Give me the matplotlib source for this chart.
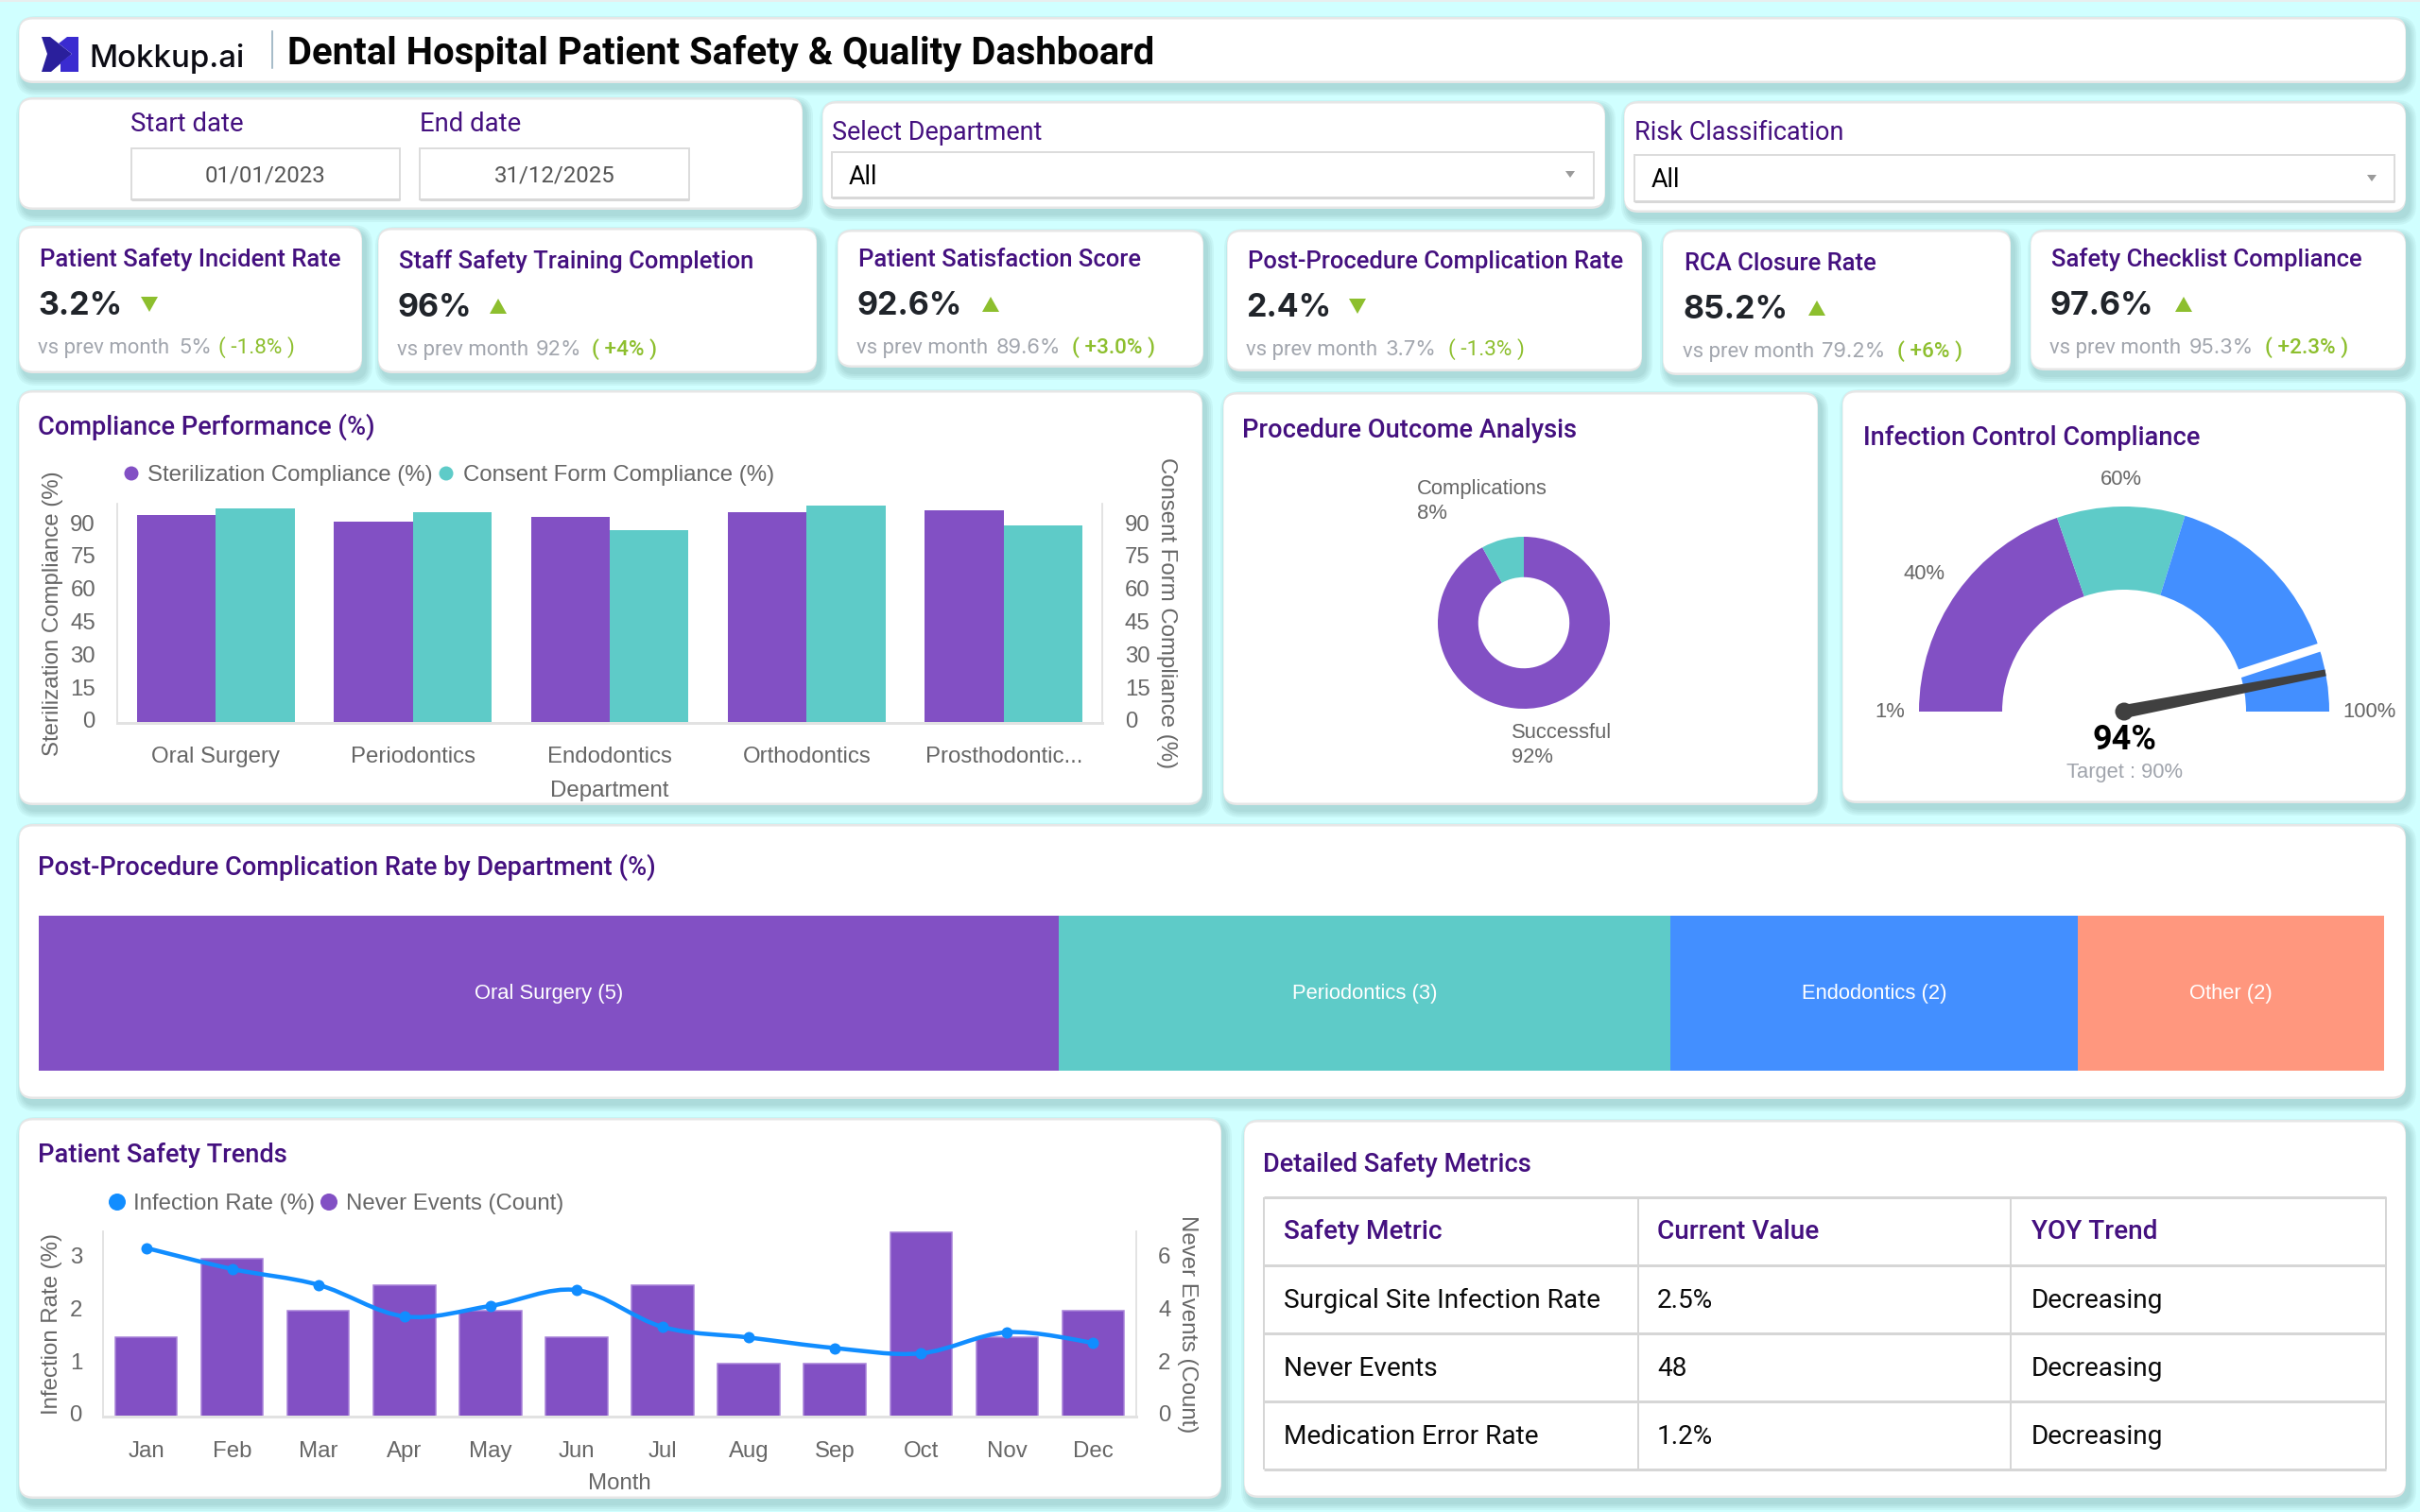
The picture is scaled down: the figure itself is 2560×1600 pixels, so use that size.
import matplotlib
matplotlib.use('Agg')
import matplotlib.pyplot as plt
import numpy as np
from matplotlib.patches import FancyBboxPatch, Polygon, Rectangle, Wedge, Circle, PathPatch
from matplotlib.path import Path
from matplotlib.transforms import Affine2D

# --- data ---
kpi_titles = ['Patient Safety Incident Rate', 'Staff Safety Training Completion', 'Patient Satisfaction Score',
              'Post-Procedure Complication Rate', 'RCA Closure Rate', 'Safety Checklist Compliance']
kpi_values = ['3.2%', '96%', '92.6%', '2.4%', '85.2%', '97.6%']
kpi_prev = ['5%', '92%', '89.6%', '3.7%', '79.2%', '95.3%']
kpi_delta = ['( -1.8% )', '( +4% )', '( +3.0% )', '( -1.3% )', '( +6% )', '( +2.3% )']
kpi_up = [False, True, True, False, True, True]

departments = ['Oral Surgery', 'Periodontics', 'Endodontics', 'Orthodontics', 'Prosthodontic...']
sterilization = [95, 92, 94, 96, 97]
consent = [98, 96, 88, 99, 90]

outcome_labels = ['Successful', 'Complications']
outcome_values = [92, 8]

gauge_stops = [1, 40, 60, 100]
gauge_value = 94
gauge_target = 90

complication_names = ['Oral Surgery', 'Periodontics', 'Endodontics', 'Other']
complication_values = [5, 3, 2, 1.5]

months = ['Jan', 'Feb', 'Mar', 'Apr', 'May', 'Jun', 'Jul', 'Aug', 'Sep', 'Oct', 'Nov', 'Dec']
infection_rate = [3.2, 2.8, 2.5, 1.9, 2.1, 2.4, 1.7, 1.5, 1.3, 1.2, 1.6, 1.4]
never_events = [3, 6, 4, 5, 4, 3, 5, 2, 2, 7, 3, 4]

table_header = ['Safety Metric', 'Current Value', 'YOY Trend']
table_metrics = ['Surgical Site Infection Rate', 'Never Events', 'Medication Error Rate']
table_current = ['2.5%', '48', '1.2%']
table_trend = ['Decreasing', 'Decreasing', 'Decreasing']

# --- style ---
bg = '#d0ffff'
purple = '#8250c4'
teal = '#5ecbc8'
blue = '#438fff'
salmon = '#ff977e'
line_blue = '#118dff'
title_col = '#44107f'
axis_text = '#666666'
green = '#8dbf2e'
grid_col = '#e2e2e2'
AX_PX = 24
PX = 0.72  # px -> pt at dpi 100

fig = plt.figure(figsize=(25.6, 16), dpi=100, facecolor=bg)
cv = fig.add_axes([0, 0, 1, 1])
cv.set_xlim(0, 2560)
cv.set_ylim(1600, 0)
cv.axis('off')


def txt(x, y, s, px=AX_PX, color='#000000', family='Roboto', weight='normal', ha='left', **kw):
    # y is the visual middle of the capitals
    return cv.text(x, y + 0.36 * px, s, fontsize=px * PX, color=color, family=family,
                   weight=weight, ha=ha, va='baseline', **kw)


def card(x0, y0, x1, y1):
    for s in (7, 5, 3, 1):
        cv.add_patch(FancyBboxPatch((x0 - s + 4, y0 - s + 6), x1 - x0 + 2 * s, y1 - y0 + 2 * s,
                                    boxstyle=f'round,pad=0,rounding_size={14 + s}',
                                    fc='#4f8080', ec='none', alpha=0.075))
    cv.add_patch(FancyBboxPatch((x0, y0), x1 - x0, y1 - y0, boxstyle='round,pad=0,rounding_size=15',
                                fc='#e6e6e6', ec='none'))
    cv.add_patch(FancyBboxPatch((x0 + 0.5, y0 + 2.5), x1 - x0 - 1, y1 - y0 - 5,
                                boxstyle='round,pad=0,rounding_size=14', fc='white', ec='none'))


def field(x0, y0, x1, y1):
    cv.add_patch(Rectangle((x0, y0), x1 - x0, y1 - y0, fc='white', ec='#dcdcdc', lw=2 * PX))
    cv.plot([x0, x1], [y1, y1], color='#d8d8d8', lw=3 * PX, solid_capstyle='butt')


def ax_px(x0, y0, x1, y1):
    a = fig.add_axes([x0 / 2560, 1 - y1 / 1600, (x1 - x0) / 2560, (y1 - y0) / 1600])
    a.patch.set_visible(False)
    return a


def style_axes(a, tick_px=AX_PX):
    for name, sp in a.spines.items():
        sp.set_visible(name != 'top')
        sp.set_color(grid_col)
        sp.set_linewidth((3 if name == 'bottom' else 1.5) * PX)
    a.tick_params(length=0, labelsize=tick_px * PX, labelcolor=axis_text)
    for lab in a.get_xticklabels() + a.get_yticklabels():
        lab.set_family('Liberation Sans')


def nudge_yticks(a, dy=3):
    # y tick labels sit a little above their gridline position in the original
    for t in a.yaxis.get_major_ticks():
        t.label1.set_transform(t.label1.get_transform() + Affine2D().translate(0, dy))
        t.label2.set_transform(t.label2.get_transform() + Affine2D().translate(0, dy))


cv.add_patch(Rectangle((0, 0), 2560, 2, fc='#e8eeee', ec='none'))

# header
card(20, 18, 2545, 88)
cv.add_patch(Polygon([(44, 39), (53, 39), (76, 57), (54, 76), (44, 76), (50, 57)], fc='#2a1f9c', ec='none'))
cv.add_patch(Polygon([(83, 39), (83, 76), (64, 76), (64, 66), (76, 57), (62, 46), (71, 39)], fc='#3a2bd0', ec='none'))
txt(94, 59, 'Mokkup.ai', px=33, family='Inter', weight='medium', color='#0c0c14')
cv.plot([288, 288], [33, 72], color='#8aa6b8', lw=1.5 * PX)
txt(304, 54, 'Dental Hospital Patient Safety & Quality Dashboard', px=40, weight='bold', color='#050505')

# filters
card(20, 103, 849, 222)
card(870, 107, 1698, 221)
card(1718, 107, 2545, 225)
txt(138, 129, 'Start date', px=27.5, color=title_col)
txt(444, 129, 'End date', px=27.5, color=title_col)
field(139, 157, 423, 211)
field(444, 157, 729, 211)
txt(281, 184, '01/01/2023', px=AX_PX, color='#555555', ha='center')
txt(587, 184, '31/12/2025', px=AX_PX, color='#555555', ha='center')

dept_lab = txt(880, 138, 'Select Department', px=27, color=title_col)
dept_lab.set_clip_path(Rectangle((870, 110), 400, 39, transform=cv.transData))
txt(1729, 138, 'Risk Classification', px=27, color=title_col)
field(880, 161, 1686, 209)
field(1729, 164, 2533, 213)
txt(898, 185, 'All', px=27)
txt(1747, 188, 'All', px=27)
for tx, ty in [(1661, 184), (2509, 188)]:
    cv.add_patch(Polygon([(tx - 5, ty - 3), (tx + 5, ty - 3), (tx, ty + 4)], fc='#9a9a9a', ec='none'))

# KPI cards
kpi_boxes = [(20, 239, 383, 395), (400, 241, 864, 395), (886, 243, 1273, 389),
             (1298, 243, 1737, 393), (1759, 243, 2127, 397), (2148, 243, 2545, 392)]
kpi_x = [40, 420, 906, 1318, 1780, 2168]
kpi_y = [321, 323, 321, 323, 325, 321]
kpi_tri_x = [158, 527, 1048, 1436, 1922, 2310]
kpi_prev_x = [189, 567, 1054, 1466, 1927, 2316]
kpi_delta_x = [231, 626, 1134, 1532, 2007, 2396]
for i, box in enumerate(kpi_boxes):
    card(*box)
    x, y = kpi_x[i], kpi_y[i]
    txt(x + 2, y - 48, kpi_titles[i], px=25.6, weight='medium', color=title_col)
    txt(x, y, kpi_values[i], px=34, family='Inter', weight='bold', color='#20242a')
    tx, ty = kpi_tri_x[i], y + 1
    if kpi_up[i]:
        pts = [(tx - 9, ty + 8), (tx + 9, ty + 8), (tx, ty - 8)]
    else:
        pts = [(tx - 9, ty - 8), (tx + 9, ty - 8), (tx, ty + 8)]
    cv.add_patch(Polygon(pts, fc=green, ec='none'))
    sy = y + 45
    txt(x, sy, 'vs prev month', px=22.2, color='#a2a6ae')
    txt(kpi_prev_x[i], sy, kpi_prev[i], px=22, family='Inter', color='#a2a6ae')
    txt(kpi_delta_x[i], sy, kpi_delta[i], px=22.5, color=green,
        weight='medium' if '+' in kpi_delta[i] else 'normal')

# Compliance Performance
card(20, 413, 1272, 852)
txt(40, 449.5, 'Compliance Performance (%)', px=27.2, weight='medium', color=title_col)
cv.scatter([139, 472], [501, 501], s=(15 * PX) ** 2, c=[purple, teal], linewidths=0, zorder=3)
txt(156, 500.5, 'Sterilization Compliance (%)', family='Liberation Sans', color=axis_text)
txt(490, 500.5, 'Consent Form Compliance (%)', family='Liberation Sans', color=axis_text)

ax = ax_px(124, 533, 1166, 765)
axr = ax.twinx()
axr.patch.set_visible(False)
pos = np.arange(len(departments))
ax.bar(pos - 0.2, sterilization, 0.4, color=purple)
axr.bar(pos + 0.2, consent, 0.4, color=teal)
ax.set_xlim(-0.5, 4.5)
ax.set_ylim(0, 100)
axr.set_ylim(0, 100)
ax.set_xticks(pos, departments)
ax.set_yticks(np.arange(0, 91, 15))
axr.set_yticks(np.arange(0, 91, 15))
style_axes(ax)
style_axes(axr)
ax.tick_params(axis='x', pad=25 * PX)
ax.tick_params(axis='y', pad=23 * PX)
axr.tick_params(axis='y', pad=24 * PX)
nudge_yticks(ax)
nudge_yticks(axr)
ax.set_xlabel('Department', fontsize=AX_PX * PX, color=axis_text, family='Liberation Sans')
ax.xaxis.set_label_coords(0.5, (765 - 836.5) / 232, transform=ax.transAxes)
ax.xaxis.label.set_va('center')
ax.set_ylabel('Sterilization Compliance (%)', fontsize=AX_PX * PX, color=axis_text, family='Liberation Sans', va='center')
ax.yaxis.set_label_coords((56 - 124) / 1042, 0.5)
axr.set_ylabel('Consent Form Compliance (%)', fontsize=AX_PX * PX, color=axis_text, family='Liberation Sans',
               rotation=-90, va='center')
axr.yaxis.set_label_coords((1234 - 124) / 1042, 0.5)

# Procedure Outcome Analysis
card(1294, 415, 1923, 852)
txt(1314, 453, 'Procedure Outcome Analysis', px=27.2, weight='medium', color=title_col)
axd = ax_px(1521, 568, 1703, 750)
axd.pie(outcome_values, colors=[purple, teal], startangle=90, counterclock=False, radius=1,
        wedgeprops={'width': 0.47, 'linewidth': 0})
axd.set_xlim(-1, 1)
axd.set_ylim(-1, 1)
txt(1499, 515.5, outcome_labels[1], px=22, family='Liberation Sans', color=axis_text)
txt(1499, 541.5, f'{outcome_values[1]}%', px=22, family='Liberation Sans', color=axis_text)
txt(1599, 773, outcome_labels[0], px=22, family='Liberation Sans', color=axis_text)
txt(1599, 799, f'{outcome_values[0]}%', px=22, family='Liberation Sans', color=axis_text)

# Infection Control Compliance
card(1949, 413, 2545, 850)
txt(1971, 461, 'Infection Control Compliance', px=27.2, weight='medium', color=title_col)
axg = ax_px(2247 - 230, 753 - 230, 2247 + 230, 753 + 230)
axg.set_xlim(-230, 230)
axg.set_ylim(-230, 230)
axg.axis('off')


def gauge_angle(v):
    return 180 * (1 - (v - gauge_stops[0]) / (gauge_stops[-1] - gauge_stops[0]))


for lo, hi, col in zip(gauge_stops[:-1], gauge_stops[1:], [purple, teal, blue]):
    axg.add_patch(Wedge((0, 0), 217, gauge_angle(hi), gauge_angle(lo), width=88, fc=col, ec='none'))
ta = np.radians(gauge_angle(gauge_target))
axg.plot([124 * np.cos(ta), 224 * np.cos(ta)], [124 * np.sin(ta), 224 * np.sin(ta)],
         color='white', lw=9 * PX, solid_capstyle='butt')
na = np.radians(gauge_angle(gauge_value))
d = np.array([np.cos(na), np.sin(na)])
n = np.array([-d[1], d[0]])
axg.add_patch(Polygon([7 * n, 217 * d + 3.5 * n, 217 * d - 3.5 * n, -7 * n], fc='#404040', ec='none'))
axg.add_patch(Circle((0, 0), 9.5, fc='#404040', ec='none'))
for lab_x, lab_y, lab_v in zip([1999, 2035, 2244, 2507], [751, 605, 505, 751], gauge_stops):
    txt(lab_x, lab_y, f'{lab_v}%', px=22, family='Liberation Sans', color=axis_text, ha='center')
txt(2247, 780, f'{gauge_value}%', px=36, weight='bold', ha='center')
txt(2247, 815, f'Target : {gauge_target}%', px=22, family='Liberation Sans', color='#a0a4ac', ha='center')

# Post-Procedure Complication Rate by Department
card(20, 872, 2545, 1163)
txt(40, 916, 'Post-Procedure Complication Rate by Department (%)', px=27.2, weight='medium', color=title_col)
axt = ax_px(41, 969, 2522, 1133)
axt.axis('off')
axt.set_xlim(0, sum(complication_values))
axt.set_ylim(-0.5, 0.5)
left = 0
for name, val, col in zip(complication_names, complication_values, [purple, teal, blue, salmon]):
    axt.barh(0, val, left=left, height=1, color=col)
    axt.text(left + val / 2, 0, f'{name} ({val:.0f})', color='white', ha='center', va='center',
             fontsize=22 * PX, family='Liberation Sans')
    left += val

# Patient Safety Trends
card(20, 1183, 1292, 1586)
txt(40, 1220, 'Patient Safety Trends', px=27.2, weight='medium', color=title_col)
cv.scatter([124, 348], [1272, 1272], s=(18 * PX) ** 2, c=[line_blue, purple], linewidths=0, zorder=3)
txt(141, 1271, 'Infection Rate (%)', family='Liberation Sans', color=axis_text)
txt(366, 1271, 'Never Events (Count)', family='Liberation Sans', color=axis_text)

axl = ax_px(109, 1303, 1202, 1499)
axb = axl.twinx()
axb.patch.set_visible(False)
mpos = np.arange(len(months))
axb.bar(mpos, never_events, 0.72, color=purple, edgecolor='#a780d8', linewidth=1.5 * PX)
axl.set_xlim(-0.5, 11.5)
axl.set_ylim(0, 3.515)
axb.set_ylim(0, 7.03)
axl.set_xticks(mpos, months)
axl.set_yticks([0, 1, 2, 3])
axb.set_yticks([0, 2, 4, 6])
style_axes(axl)
style_axes(axb)
axl.set_zorder(axb.get_zorder() + 1)
axl.tick_params(axis='x', pad=26 * PX)
axl.tick_params(axis='y', pad=22 * PX)
axb.tick_params(axis='y', pad=23 * PX)
nudge_yticks(axl)
nudge_yticks(axb)
rate = np.array(infection_rate)
pts = np.column_stack([mpos, rate])
verts = [pts[0]]
codes = [Path.MOVETO]
for i in range(len(pts) - 1):
    prev_p = pts[max(i - 1, 0)]
    next_p = pts[min(i + 2, len(pts) - 1)]
    verts += [pts[i] + (pts[i + 1] - prev_p) / 6, pts[i + 1] - (next_p - pts[i]) / 6, pts[i + 1]]
    codes += [Path.CURVE4] * 3
axl.add_patch(PathPatch(Path(verts, codes), fc='none', ec=line_blue, lw=4.5 * PX))
axl.plot(mpos, rate, 'o', color=line_blue, ms=12 * PX, mew=0)
axl.set_xlabel('Month', fontsize=AX_PX * PX, color=axis_text, family='Liberation Sans', va='center')
axl.xaxis.set_label_coords(0.5, (1499 - 1570) / 196)
axl.set_ylabel('Infection Rate (%)', fontsize=AX_PX * PX, color=axis_text, family='Liberation Sans', va='center')
axl.yaxis.set_label_coords((55 - 109) / 1093, 0.5)
axb.set_ylabel('Never Events (Count)', fontsize=AX_PX * PX, color=axis_text, family='Liberation Sans',
               rotation=-90, va='center')
axb.yaxis.set_label_coords((1256 - 109) / 1093, 0.5)

# Detailed Safety Metrics
card(1316, 1185, 2545, 1585)
txt(1336, 1230.5, 'Detailed Safety Metrics', px=27.2, weight='medium', color=title_col)
col_x = [1337, 1733, 2127, 2524]
row_y = [1267, 1339, 1411, 1483, 1555]
for ry in row_y:
    cv.plot([col_x[0], col_x[-1]], [ry, ry], color='#d6d6d6', lw=3 * PX, solid_capstyle='butt')
for cx in col_x:
    cv.plot([cx, cx], [row_y[0], row_y[-1]], color='#d6d6d6', lw=2 * PX, solid_capstyle='butt')
text_x = [1358, 1753, 2149]
for tx, head, cells in zip(text_x, table_header, [table_metrics, table_current, table_trend]):
    txt(tx, 1301, head, px=28, weight='medium', color=title_col)
    for j, val in enumerate(cells):
        txt(tx, 1374 + 72 * j, val, px=28, color='#0a0a0a')

fig.savefig('out.png', dpi=100, facecolor=bg)
